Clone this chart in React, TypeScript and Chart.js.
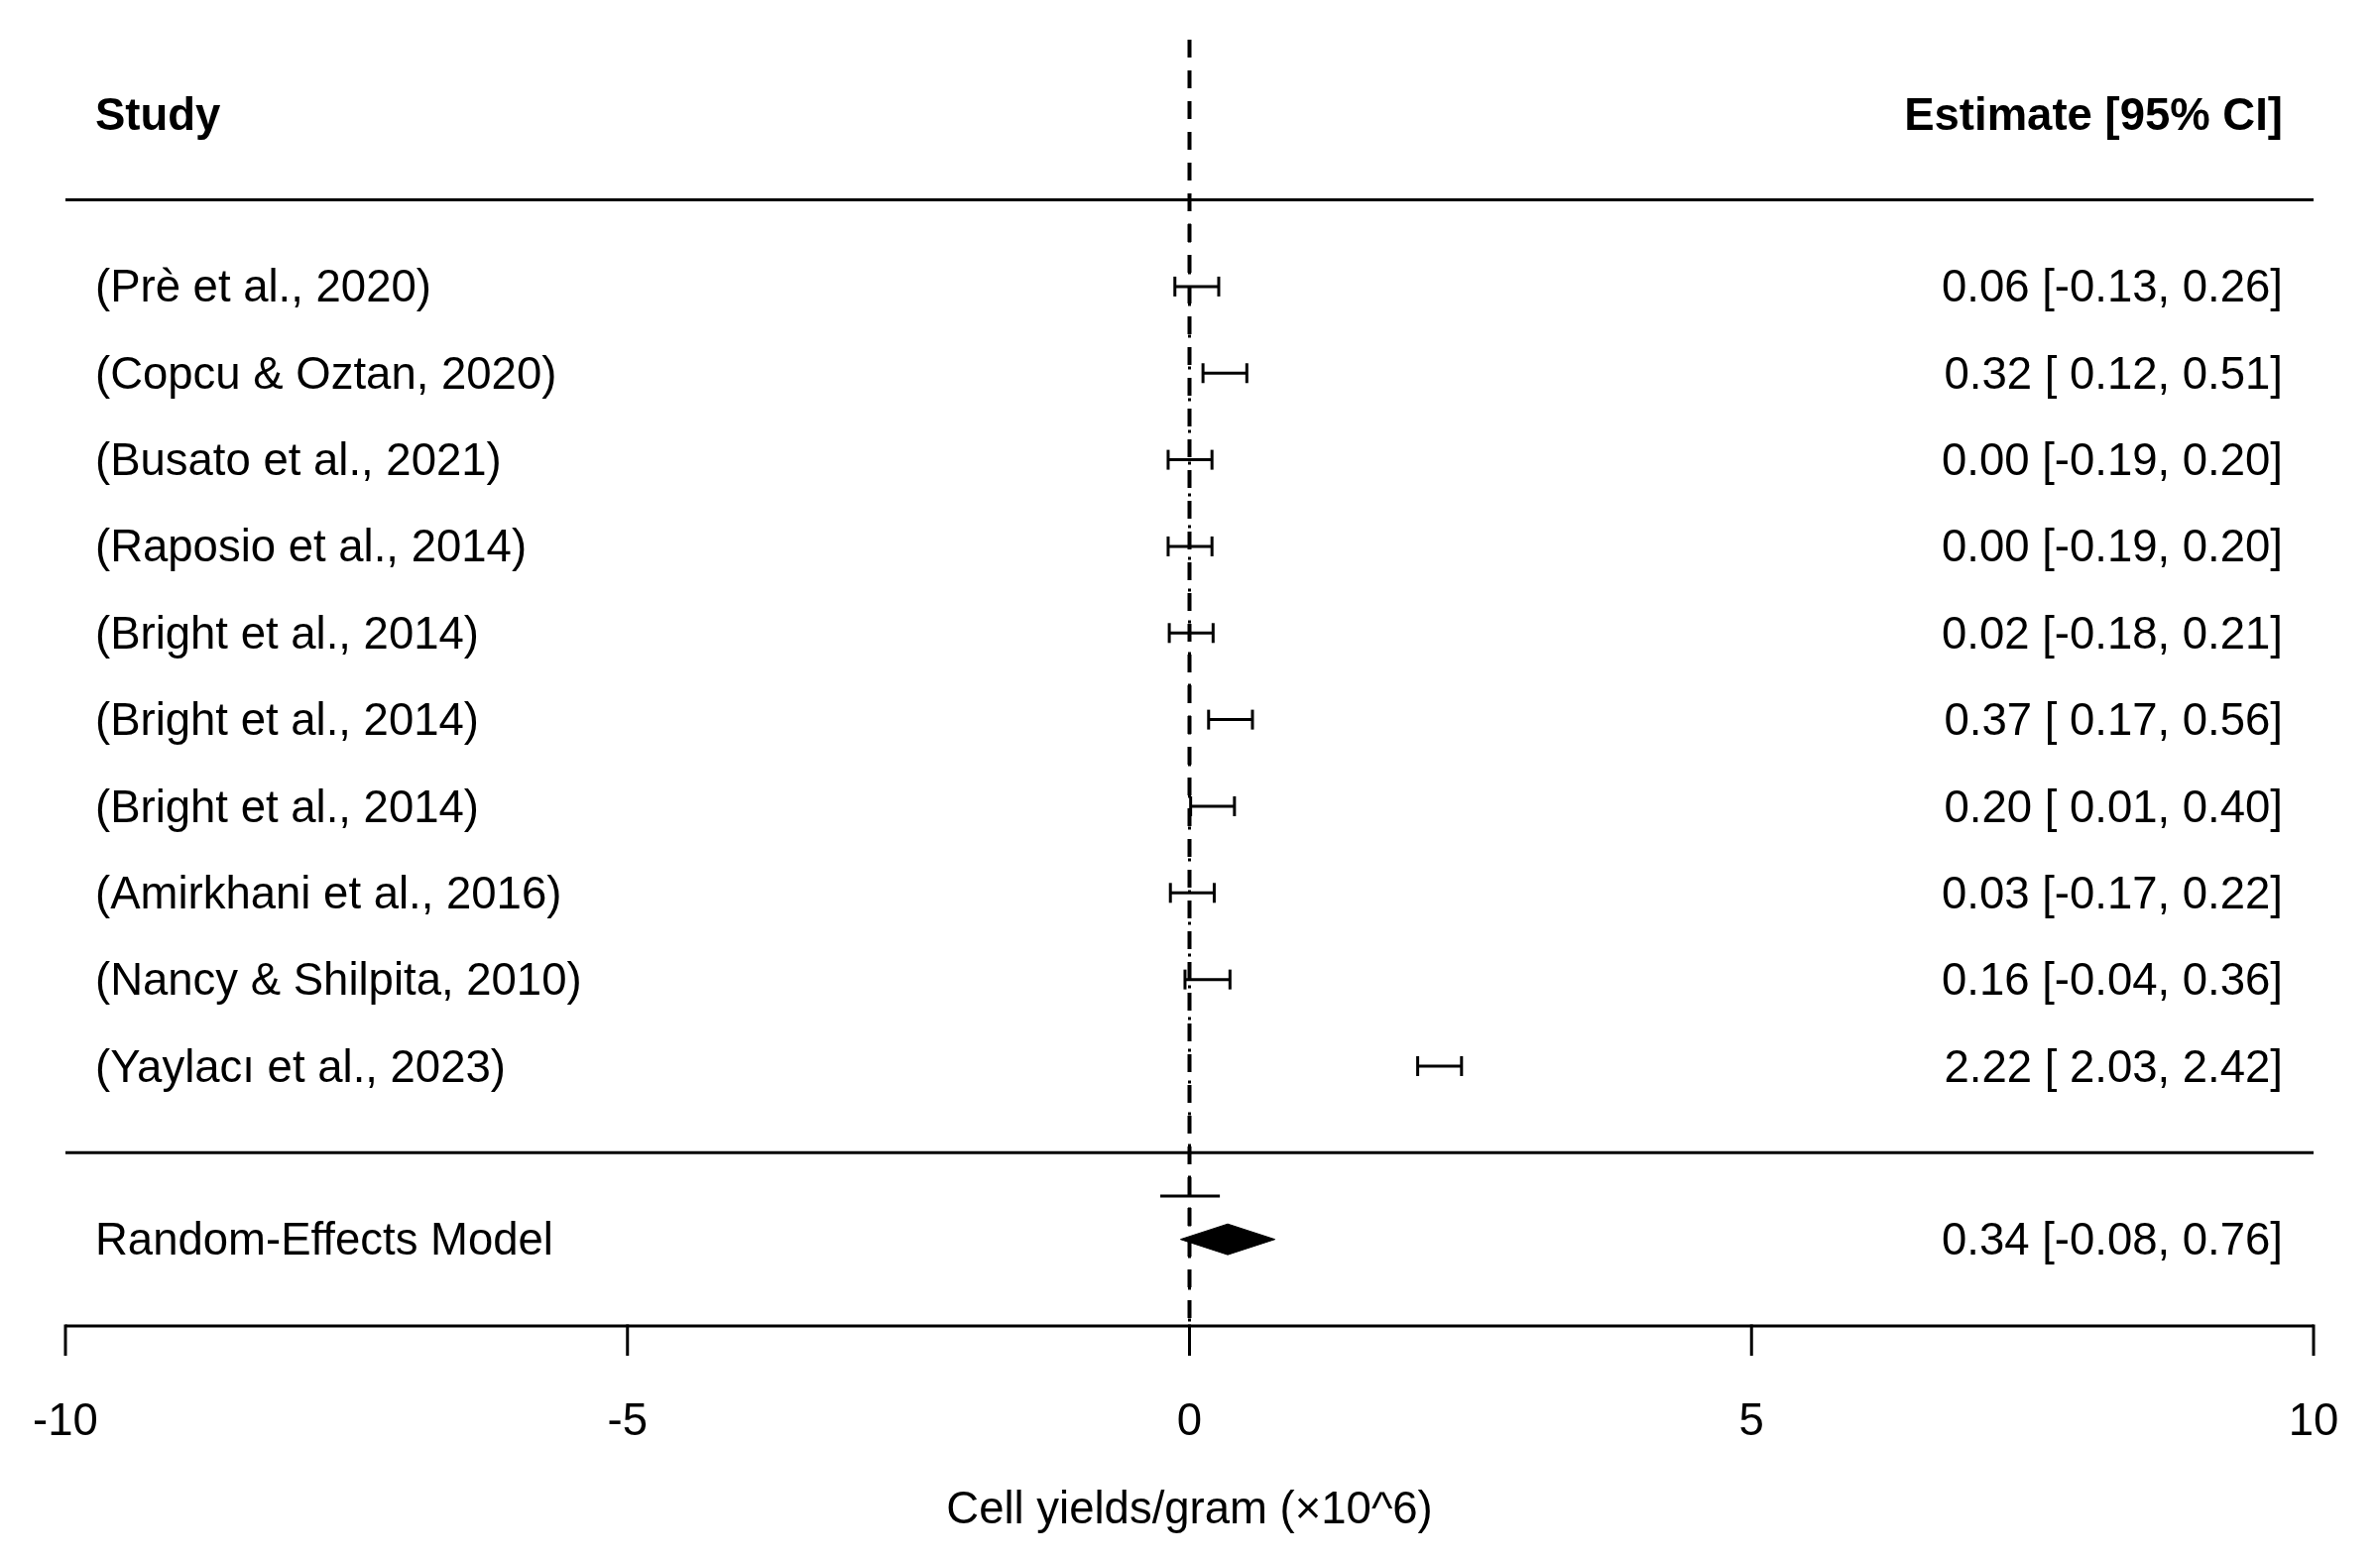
import React, { useEffect, useRef } from "react";
import { Chart, registerables } from "chart.js";

Chart.register(...registerables);

const studies = [
  "(Prè et al., 2020)",
  "(Copcu & Oztan, 2020)",
  "(Busato et al., 2021)",
  "(Raposio et al., 2014)",
  "(Bright et al., 2014)",
  "(Bright et al., 2014)",
  "(Bright et al., 2014)",
  "(Amirkhani et al., 2016)",
  "(Nancy & Shilpita, 2010)",
  "(Yaylacı et al., 2023)",
];
const estimates = [0.06, 0.32, 0.0, 0.0, 0.02, 0.37, 0.2, 0.03, 0.16, 2.22];
const lowers = [-0.13, 0.12, -0.19, -0.19, -0.18, 0.17, 0.01, -0.17, -0.04, 2.03];
const uppers = [0.26, 0.51, 0.2, 0.2, 0.21, 0.56, 0.4, 0.22, 0.36, 2.42];

const modelLabel = "Random-Effects Model";
const modelEstimate = 0.34;
const modelLower = -0.08;
const modelUpper = 0.76;
const modelLine = [-0.26, 0.27];

const xTicks = [-10, -5, 0, 5, 10];
const xTitle = "Cell yields/gram (×10^6)";
const headerLeft = "Study";
const headerRight = "Estimate [95% CI]";

const FONT = "'Liberation Sans', Arial, Helvetica, sans-serif";
const FS = 45.5;
const DY = 3;

function fmtCol(vals: number[]) {
  const anyNeg = vals.some((v) => v < 0);
  return vals.map((v) => {
    const s = v.toFixed(2);
    return anyNeg && v >= 0 ? " " + s : s;
  });
}

export default function App() {
  const canvasRef = useRef<HTMLCanvasElement | null>(null);

  useEffect(() => {
    const canvas = canvasRef.current;
    if (!canvas) return;
    const k = studies.length;
    const rows = studies.map((_, i) => k - i);

    const loStr = fmtCol(lowers);
    const hiStr = fmtCol(uppers);
    const ciText = estimates.map(
      (e, i) => `${e.toFixed(2)} [${loStr[i]}, ${hiStr[i]}]`
    );
    const modelText = `${modelEstimate.toFixed(2)} [${modelLower.toFixed(2)}, ${modelUpper.toFixed(2)}]`;

    const datasets: any[] = studies.map((s, i) => ({
      label: s,
      data: [
        { x: lowers[i], y: rows[i] },
        { x: uppers[i], y: rows[i] },
      ],
      showLine: true,
      borderColor: "#000",
      borderWidth: 3,
      pointStyle: "line",
      rotation: 90,
      pointRadius: 10,
      pointHoverRadius: 10,
      pointBorderWidth: 3,
      pointBorderColor: "#000",
      pointBackgroundColor: "#000",
    }));

    datasets.push({
      label: "model-line",
      data: [
        { x: modelLine[0], y: -0.5 },
        { x: modelLine[1], y: -0.5 },
      ],
      showLine: true,
      borderColor: "#000",
      borderWidth: 3,
      pointRadius: 0,
    });

    const forestPlugin = {
      id: "forest",
      beforeDatasetsDraw(chart: any) {
        const ctx = chart.ctx as CanvasRenderingContext2D;
        const xs = chart.scales.x;
        const ys = chart.scales.y;
        const area = chart.chartArea;
        const x0 = xs.getPixelForValue(0);
        ctx.save();
        ctx.strokeStyle = "#000";
        ctx.lineCap = "butt";
        ctx.lineWidth = 3;
        [k + 1, 0].forEach((r) => {
          const y = ys.getPixelForValue(r);
          ctx.beginPath();
          ctx.moveTo(xs.getPixelForValue(xTicks[0]), y);
          ctx.lineTo(xs.getPixelForValue(xTicks[xTicks.length - 1]), y);
          ctx.stroke();
        });
        ctx.lineWidth = 4;
        ctx.setLineDash([18, 13]);
        ctx.beginPath();
        ctx.moveTo(x0, area.top);
        ctx.lineTo(x0, ys.getPixelForValue(-2));
        ctx.stroke();
        ctx.lineWidth = 3;
        ctx.setLineDash([3, 13]);
        ctx.lineDashOffset = 8;
        ctx.beginPath();
        ctx.moveTo(x0, ys.getPixelForValue(k + 1));
        ctx.lineTo(x0, ys.getPixelForValue(-2));
        ctx.stroke();
        ctx.setLineDash([]);
        ctx.restore();
      },
      afterDatasetsDraw(chart: any) {
        const ctx = chart.ctx as CanvasRenderingContext2D;
        const xs = chart.scales.x;
        const ys = chart.scales.y;
        ctx.save();
        ctx.fillStyle = "#000";
        ctx.strokeStyle = "#000";
        const yM = ys.getPixelForValue(-1);
        const h = 15.5;
        ctx.beginPath();
        ctx.moveTo(xs.getPixelForValue(modelLower), yM);
        ctx.lineTo(xs.getPixelForValue(modelEstimate), yM - h);
        ctx.lineTo(xs.getPixelForValue(modelUpper), yM);
        ctx.lineTo(xs.getPixelForValue(modelEstimate), yM + h);
        ctx.closePath();
        ctx.fill();
        ctx.lineWidth = 1;
        ctx.stroke();

        const yA = ys.getPixelForValue(-2);
        ctx.lineWidth = 3;
        ctx.beginPath();
        ctx.moveTo(xs.getPixelForValue(xTicks[0]), yA);
        ctx.lineTo(xs.getPixelForValue(xTicks[xTicks.length - 1]), yA);
        ctx.stroke();
        xTicks.forEach((t) => {
          const x = xs.getPixelForValue(t);
          ctx.beginPath();
          ctx.moveTo(x, yA - 1.5);
          ctx.lineTo(x, yA + 30);
          ctx.stroke();
        });

        ctx.textBaseline = "middle";
        ctx.font = `${FS}px ${FONT}`;
        ctx.textAlign = "center";
        xTicks.forEach((t) => {
          ctx.fillText(String(t), xs.getPixelForValue(t), 1431 + DY);
        });
        ctx.fillText(xTitle, xs.getPixelForValue(0), 1520 + DY);

        const leftX = 96;
        const rightX = 2302;
        ctx.font = `bold ${FS}px ${FONT}`;
        ctx.textAlign = "left";
        ctx.fillText(headerLeft, leftX, ys.getPixelForValue(k + 2) + DY + 1);
        ctx.textAlign = "right";
        ctx.fillText(headerRight, rightX, ys.getPixelForValue(k + 2) + DY + 1);

        ctx.font = `${FS}px ${FONT}`;
        studies.forEach((s, i) => {
          const y = ys.getPixelForValue(rows[i]) + DY;
          ctx.textAlign = "left";
          ctx.fillText(s, leftX, y);
          ctx.textAlign = "right";
          ctx.fillText(ciText[i], rightX, y);
        });
        ctx.textAlign = "left";
        ctx.fillText(modelLabel, leftX, yM + DY);
        ctx.textAlign = "right";
        ctx.fillText(modelText, rightX, yM + DY);
        ctx.restore();
      },
    };

    const chart = new Chart(canvas, {
      type: "scatter",
      data: { datasets },
      options: {
        animation: false,
        responsive: false,
        devicePixelRatio: 1,
        layout: { padding: { left: 66, right: 67, top: 40, bottom: 239 } },
        plugins: {
          legend: { display: false },
          tooltip: { enabled: false },
        },
        events: [],
        scales: {
          x: { type: "linear", min: -10, max: 10, display: false },
          y: { type: "linear", min: -2, max: 12.85, display: false },
        },
      } as any,
      plugins: [forestPlugin],
    });
    return () => chart.destroy();
  }, []);

  return (
    <div style={{ position: "fixed", left: 0, top: 0, width: 2400, height: 1576, background: "#fff" }}>
      <canvas ref={canvasRef} width={2400} height={1576} style={{ width: 2400, height: 1576, display: "block" }} />
    </div>
  );
}
